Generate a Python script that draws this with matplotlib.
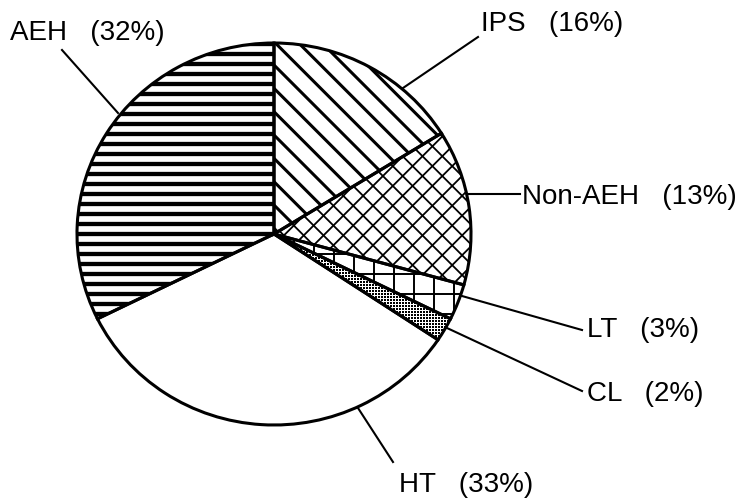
import numpy as np
import matplotlib
matplotlib.use("Agg")
import matplotlib.pyplot as plt
from matplotlib.collections import LineCollection
from matplotlib.lines import Line2D

# slices, clockwise from 12 o'clock
labels = ["IPS", "Non-AEH", "LT", "CL", "HT", "AEH"]
percents = [16, 13, 3, 2, 33, 32]

# layout in pixels of the 749x499 picture
W, H = 749, 499
label_xy = [(481, 31), (522, 204), (587, 337), (587, 401), (399, 492), (10, 40)]
leader_xy = [((478, 37), (403, 88)), ((467, 194), (520, 194)), ((462, 296), (582, 330)),
             ((447, 328), (582, 391)), ((358, 408), (393, 462)), ((62, 50), (118, 113))]

# hatching per slice: (angle deg, spacing px, linewidth pt)
hatch_spec = [
    [(-45, 16.5, 2.2)],
    [(45, 14, 1.3), (-45, 14, 1.3)],
    [(0, 20, 1.4), (90, 20, 1.4)],
    "dots",
    [],
    [(0, 10, 3.1)],
]

fig = plt.figure(figsize=(W / 100, H / 100), dpi=100)
left, right, top, bottom = 77, 471, 43, 425
ax = fig.add_axes([left / W, 1 - bottom / H, (right - left) / W, (bottom - top) / H])
sx = (right - left) / 2
sy = (bottom - top) / 2

wedges, _ = ax.pie(percents, startangle=90, counterclock=False, radius=1,
                   wedgeprops=dict(facecolor="white", edgecolor="none", zorder=1))


def add_hatch(wedge, angle, spacing, lw):
    a = np.deg2rad(angle)
    u = np.array([np.cos(a), np.sin(a)])
    n = np.array([-np.sin(a), np.cos(a)])
    L = 260
    segs = []
    for k in np.arange(-L, L + spacing, spacing):
        p0 = n * k - u * L
        p1 = n * k + u * L
        segs.append([(p0[0] / sx, p0[1] / sy), (p1[0] / sx, p1[1] / sy)])
    lc = LineCollection(segs, colors="black", linewidths=lw, zorder=2)
    ax.add_collection(lc, autolim=False)
    lc.set_clip_path(wedge)


def add_dots(wedge, step=3.0):
    g = np.arange(-210, 210, step)
    gx, gy = np.meshgrid(g, g)
    sc = ax.scatter(gx.ravel() / sx, gy.ravel() / sy, s=1.6, marker="s",
                    color="black", linewidths=0, zorder=2)
    sc.set_clip_path(wedge)


for w, spec in zip(wedges, hatch_spec):
    if spec == "dots":
        add_dots(w)
    else:
        for ang, sp, lw in spec:
            add_hatch(w, ang, sp, lw)

# outlines on top
ax.pie(percents, startangle=90, counterclock=False, radius=1,
       wedgeprops=dict(facecolor="none", edgecolor="black", linewidth=2.2, zorder=3))

ax.set_aspect("auto")
ax.set_xlim(-1, 1)
ax.set_ylim(-1, 1)
ax.axis("off")

for name, pct, (tx, ty), (p0, p1) in zip(labels, percents, label_xy, leader_xy):
    fig.add_artist(Line2D([p0[0] / W, p1[0] / W], [1 - p0[1] / H, 1 - p1[1] / H],
                          transform=fig.transFigure, color="black", lw=1.5))
    fig.text(tx / W, 1 - ty / H, f"{name}   ({pct}%)", ha="left", va="baseline",
             fontsize=20, family="Liberation Sans", color="black")

fig.savefig("out.png", dpi=100)
